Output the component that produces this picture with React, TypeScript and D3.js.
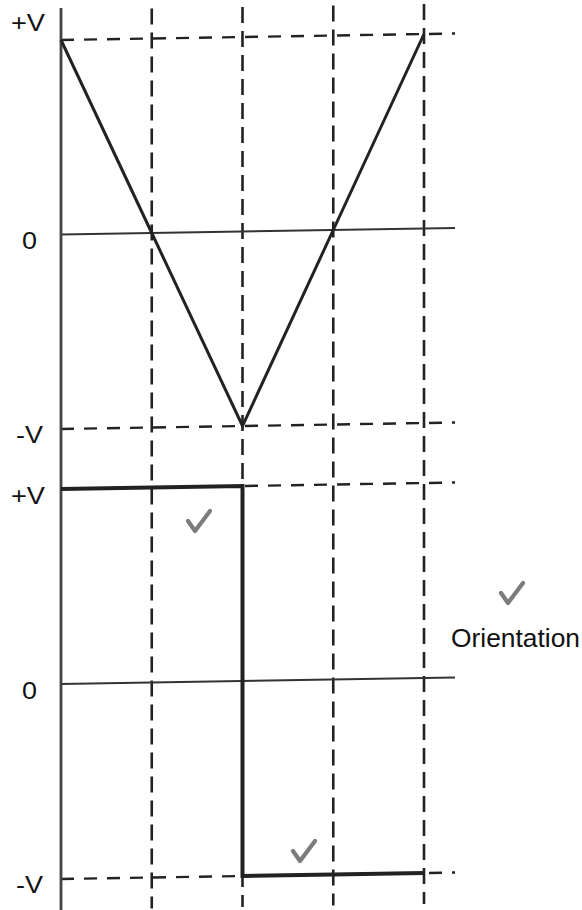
import React from "react";
import * as d3 from "d3";

const timeSteps = [0, 1, 2, 3, 4];
const triangleValues = [1, 0, -1, 0, 1];
const squareValues = [1, 1, -1, -1, -1];
const levelLabels = ["+V", "0", "-V"];
const levelValues = [1, 0, -1];
const gridSteps = [1, 2, 3, 4];
const annotationText = "Orientation";

const W = 582;
const H = 910;
const K = 0.0165; // scan skew

export default function App() {
  const x = d3.scaleLinear().domain([0, 4]).range([61, 424]);
  const xEnd = 455;
  const yTop = d3.scaleLinear().domain([-1, 1]).range([429, 40]);
  const yBot = d3.scaleLinear().domain([-1, 1]).range([879, 489]);

  const triLine = d3
    .line<number>()
    .x((_, i) => x(timeSteps[i]))
    .y((d) => yTop(d));
  const sqLine = d3
    .line<number>()
    .x((_, i) => x(timeSteps[i]))
    .y((d) => yBot(d))
    .curve(d3.curveStepAfter);

  const dark = "#222";
  const font = "Liberation Sans, Arial, sans-serif";

  const topLabelY = [31, 249, 443];
  const botLabelY = [504, 699, 893];
  const labelX = [11, 22, 16];
  const labelW = [34, 15, 27];

  const check = (cx: number, cy: number, key: string) => (
    <path
      key={key}
      d={`M${cx},${cy + 11} L${cx + 7},${cy + 21} L${cx + 22},${cy + 1}`}
      fill="none"
      stroke="#7c7c7c"
      strokeWidth={4.2}
      strokeLinecap="round"
      strokeLinejoin="round"
    />
  );

  return (
    <svg
      width={W}
      height={H}
      style={{ position: "absolute", left: 0, top: 0, background: "#fff" }}
    >
      <rect width={W} height={H} fill="#fff" />
      <g transform={`matrix(1,${-K},0,1,0,${61 * K})`}>
        {gridSteps.map((t) => (
          <line
            key={"v" + t}
            x1={x(t)}
            x2={x(t)}
            y1={10}
            y2={910}
            stroke={dark}
            strokeWidth={2.6}
            strokeDasharray="16 8"
          />
        ))}
        {[yTop, yBot].map((ys, j) =>
          [1, -1].map((v) => (
            <line
              key={`h${j}${v}`}
              x1={x(0)}
              x2={xEnd}
              y1={ys(v)}
              y2={ys(v)}
              stroke={dark}
              strokeWidth={2.4}
              strokeDasharray="13 10"
            />
          ))
        )}
        {[yTop, yBot].map((ys, j) => (
          <line
            key={"z" + j}
            x1={x(0)}
            x2={xEnd}
            y1={ys(0)}
            y2={ys(0)}
            stroke="#333"
            strokeWidth={2}
          />
        ))}
        <line
          x1={x(0)}
          x2={x(0)}
          y1={8}
          y2={910}
          stroke="#444"
          strokeWidth={2.8}
        />
        <path
          d={triLine(triangleValues) || ""}
          fill="none"
          stroke={dark}
          strokeWidth={3}
          strokeLinejoin="miter"
        />
        <path
          d={sqLine(squareValues) || ""}
          fill="none"
          stroke={dark}
          strokeWidth={4}
        />
      </g>
      {levelValues.map((v, i) => (
        <text
          key={"lt" + i}
          x={labelX[i]}
          y={topLabelY[i]}
          fontFamily={font}
          fontSize={23}
          fill="#111"
          textLength={labelW[i]}
          lengthAdjust="spacingAndGlyphs"
        >
          {levelLabels[i]}
        </text>
      ))}
      {levelValues.map((v, i) => (
        <text
          key={"lb" + i}
          x={labelX[i]}
          y={botLabelY[i]}
          fontFamily={font}
          fontSize={23}
          fill="#111"
          textLength={labelW[i]}
          lengthAdjust="spacingAndGlyphs"
        >
          {levelLabels[i]}
        </text>
      ))}
      {check(188, 510, "c1")}
      {check(501, 582, "c2")}
      {check(293, 840, "c3")}
      <text
        x={451}
        y={647}
        fontFamily={font}
        fontSize={25}
        fill="#111"
        textLength={129}
        lengthAdjust="spacingAndGlyphs"
      >
        {annotationText}
      </text>
    </svg>
  );
}
